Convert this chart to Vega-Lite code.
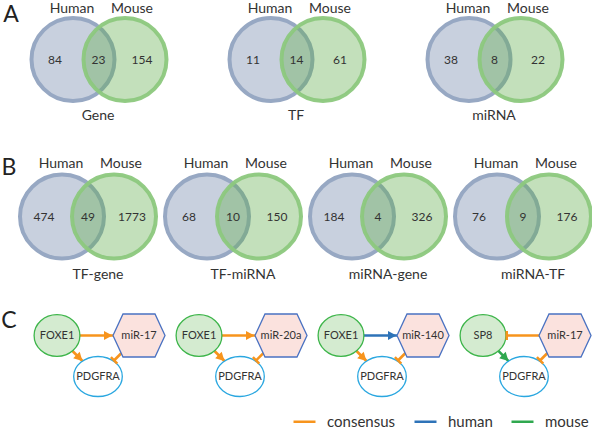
{
  "$schema": "https://vega.github.io/schema/vega-lite/v6.json",
  "padding": 0,
  "background": "white",
  "spacing": 0,
  "config": {
    "font": "Lato",
    "view": {"stroke": null},
    "axis": {"disable": true},
    "facet": {"spacing": 0},
    "concat": {"spacing": 0}
  },
  "vconcat": [
    {
      "data": {"values": [
        {"panel": "A", "venn": "Gene", "region": "Human", "count": 84},
        {"panel": "A", "venn": "Gene", "region": "Both", "count": 23},
        {"panel": "A", "venn": "Gene", "region": "Mouse", "count": 154},
        {"panel": "A", "venn": "TF", "region": "Human", "count": 11},
        {"panel": "A", "venn": "TF", "region": "Both", "count": 14},
        {"panel": "A", "venn": "TF", "region": "Mouse", "count": 61},
        {"panel": "A", "venn": "miRNA", "region": "Human", "count": 38},
        {"panel": "A", "venn": "miRNA", "region": "Both", "count": 8},
        {"panel": "A", "venn": "miRNA", "region": "Mouse", "count": 22}
      ]},
      "facet": {"column": {"field": "venn", "type": "nominal", "sort": ["Gene", "TF", "miRNA"], "header": null}},
      "spacing": {"column": 0, "row": 0},
      "bounds": "flush",
      "spec": {
        "width": 197.33,
        "height": 140,
        "resolve": {"scale": {"x": "independent", "y": "independent"}},
        "layer": [
          {
            "transform": [{"filter": "datum.region === 'Human'"}],
            "mark": {"type": "point", "shape": "circle", "size": 6889, "filled": true, "fill": "#c8d0de", "stroke": "#97a8c3", "strokeWidth": 4, "opacity": 1},
            "encoding": {
              "x": {"field": "region", "type": "nominal", "scale": {"type": "point", "domain": ["Human", "Mouse"], "range": [73, 125], "padding": 0}},
              "y": {"datum": "body", "type": "nominal", "scale": {"type": "point", "domain": ["body"], "range": [59.5, 59.5], "padding": 0}}
            }
          },
          {
            "transform": [{"filter": "datum.region === 'Mouse'"}],
            "mark": {"type": "point", "shape": "circle", "size": 6889, "filled": true, "fill": "#62ae4c", "fillOpacity": 0.38, "stroke": "#8cc87d", "strokeOpacity": 0.95, "strokeWidth": 4, "opacity": 1},
            "encoding": {
              "x": {"field": "region", "type": "nominal", "scale": {"type": "point", "domain": ["Human", "Mouse"], "range": [73, 125], "padding": 0}},
              "y": {"datum": "body", "type": "nominal", "scale": {"type": "point", "domain": ["body"], "range": [59.5, 59.5], "padding": 0}}
            }
          },
          {
            "transform": [{"filter": "datum.region !== 'Both'"}],
            "mark": {"type": "text", "font": "Lato", "fontSize": 14, "fill": "#333333"},
            "encoding": {
              "x": {"field": "region", "type": "nominal", "scale": {"type": "point", "domain": ["Human", "Mouse"], "range": [72, 132], "padding": 0}},
              "y": {"datum": "label", "type": "nominal", "scale": {"type": "point", "domain": ["label"], "range": [8.5, 8.5], "padding": 0}},
              "text": {"field": "region", "type": "nominal"}
            }
          },
          {
            "mark": {"type": "text", "font": "Lato", "fontSize": 12, "fill": "#333333"},
            "encoding": {
              "x": {"field": "region", "type": "nominal", "scale": {"type": "point", "domain": ["Human", "Both", "Mouse"], "range": [55, 142], "padding": 0}},
              "y": {"datum": "body", "type": "nominal", "scale": {"type": "point", "domain": ["body"], "range": [60, 60], "padding": 0}},
              "text": {"field": "count", "type": "nominal"}
            }
          },
          {
            "transform": [{"filter": "datum.region === 'Both'"}],
            "mark": {"type": "text", "font": "Lato", "fontSize": 14, "fill": "#333333"},
            "encoding": {
              "x": {"field": "region", "type": "nominal", "scale": {"type": "point", "domain": ["Human", "Both", "Mouse"], "range": [54, 142], "padding": 0}},
              "y": {"datum": "caption", "type": "nominal", "scale": {"type": "point", "domain": ["caption"], "range": [116, 116], "padding": 0}},
              "text": {"field": "venn", "type": "nominal"}
            }
          },
          {
            "transform": [{"filter": "datum.venn === 'Gene' && datum.region === 'Both'"}],
            "mark": {"type": "text", "font": "Lato", "fontSize": 23, "fill": "#222222"},
            "encoding": {
              "x": {"field": "panel", "type": "nominal", "scale": {"type": "point", "domain": ["A"], "range": [11, 11], "padding": 0}},
              "y": {"field": "panel", "type": "nominal", "scale": {"type": "point", "domain": ["A"], "range": [15, 15], "padding": 0}},
              "text": {"field": "panel", "type": "nominal"}
            }
          }
        ]
      }
    },
    {
      "data": {"values": [
        {"panel": "B", "venn": "TF-gene", "region": "Human", "count": 474},
        {"panel": "B", "venn": "TF-gene", "region": "Both", "count": 49},
        {"panel": "B", "venn": "TF-gene", "region": "Mouse", "count": 1773},
        {"panel": "B", "venn": "TF-miRNA", "region": "Human", "count": 68},
        {"panel": "B", "venn": "TF-miRNA", "region": "Both", "count": 10},
        {"panel": "B", "venn": "TF-miRNA", "region": "Mouse", "count": 150},
        {"panel": "B", "venn": "miRNA-gene", "region": "Human", "count": 184},
        {"panel": "B", "venn": "miRNA-gene", "region": "Both", "count": 4},
        {"panel": "B", "venn": "miRNA-gene", "region": "Mouse", "count": 326},
        {"panel": "B", "venn": "miRNA-TF", "region": "Human", "count": 76},
        {"panel": "B", "venn": "miRNA-TF", "region": "Both", "count": 9},
        {"panel": "B", "venn": "miRNA-TF", "region": "Mouse", "count": 176}
      ]},
      "facet": {"column": {"field": "venn", "type": "nominal", "sort": ["TF-gene", "TF-miRNA", "miRNA-gene", "miRNA-TF"], "header": null}},
      "spacing": {"column": 0, "row": 0},
      "bounds": "flush",
      "spec": {
        "width": 144.5,
        "height": 160,
        "resolve": {"scale": {"x": "independent", "y": "independent"}},
        "layer": [
          {
            "transform": [{"filter": "datum.region === 'Human'"}],
            "mark": {"type": "point", "shape": "circle", "size": 7056, "filled": true, "fill": "#c8d0de", "stroke": "#97a8c3", "strokeWidth": 4, "opacity": 1},
            "encoding": {
              "x": {"field": "region", "type": "nominal", "scale": {"type": "point", "domain": ["Human", "Mouse"], "range": [62, 114], "padding": 0}},
              "y": {"datum": "body", "type": "nominal", "scale": {"type": "point", "domain": ["body"], "range": [76.5, 76.5], "padding": 0}}
            }
          },
          {
            "transform": [{"filter": "datum.region === 'Mouse'"}],
            "mark": {"type": "point", "shape": "circle", "size": 7056, "filled": true, "fill": "#62ae4c", "fillOpacity": 0.38, "stroke": "#8cc87d", "strokeOpacity": 0.95, "strokeWidth": 4, "opacity": 1},
            "encoding": {
              "x": {"field": "region", "type": "nominal", "scale": {"type": "point", "domain": ["Human", "Mouse"], "range": [62, 114], "padding": 0}},
              "y": {"datum": "body", "type": "nominal", "scale": {"type": "point", "domain": ["body"], "range": [76.5, 76.5], "padding": 0}}
            }
          },
          {
            "transform": [{"filter": "datum.region !== 'Both'"}],
            "mark": {"type": "text", "font": "Lato", "fontSize": 14, "fill": "#333333"},
            "encoding": {
              "x": {"field": "region", "type": "nominal", "scale": {"type": "point", "domain": ["Human", "Mouse"], "range": [61, 121], "padding": 0}},
              "y": {"datum": "label", "type": "nominal", "scale": {"type": "point", "domain": ["label"], "range": [23.5, 23.5], "padding": 0}},
              "text": {"field": "region", "type": "nominal"}
            }
          },
          {
            "mark": {"type": "text", "font": "Lato", "fontSize": 12, "fill": "#333333"},
            "encoding": {
              "x": {"field": "region", "type": "nominal", "scale": {"type": "point", "domain": ["Human", "Both", "Mouse"], "range": [44, 132], "padding": 0}},
              "y": {"datum": "body", "type": "nominal", "scale": {"type": "point", "domain": ["body"], "range": [77, 77], "padding": 0}},
              "text": {"field": "count", "type": "nominal"}
            }
          },
          {
            "transform": [{"filter": "datum.region === 'Both'"}],
            "mark": {"type": "text", "font": "Lato", "fontSize": 14, "fill": "#333333"},
            "encoding": {
              "x": {"field": "region", "type": "nominal", "scale": {"type": "point", "domain": ["Human", "Both", "Mouse"], "range": [54, 142], "padding": 0}},
              "y": {"datum": "caption", "type": "nominal", "scale": {"type": "point", "domain": ["caption"], "range": [135, 135], "padding": 0}},
              "text": {"field": "venn", "type": "nominal"}
            }
          },
          {
            "transform": [{"filter": "datum.venn === 'TF-gene' && datum.region === 'Both'"}],
            "mark": {"type": "text", "font": "Lato", "fontSize": 23, "fill": "#222222"},
            "encoding": {
              "x": {"field": "panel", "type": "nominal", "scale": {"type": "point", "domain": ["B"], "range": [9, 9], "padding": 0}},
              "y": {"field": "panel", "type": "nominal", "scale": {"type": "point", "domain": ["B"], "range": [28, 28], "padding": 0}},
              "text": {"field": "panel", "type": "nominal"}
            }
          }
        ]
      }
    },
    {
      "data": {"values": [
        {"net": "n1", "kind": "node", "role": "TF", "level": "regulator", "name": "FOXE1", "panel": "C"},
        {"net": "n1", "kind": "node", "role": "miRNA", "level": "regulator", "name": "miR-17"},
        {"net": "n1", "kind": "node", "role": "target", "level": "target", "name": "PDGFRA"},
        {"net": "n1", "kind": "edge", "from": "TF", "to": "miRNA", "fromLevel": "regulator", "toLevel": "regulator", "type": "consensus"},
        {"net": "n1", "kind": "edge", "from": "TF", "to": "target", "fromLevel": "regulator", "toLevel": "target", "type": "consensus"},
        {"net": "n1", "kind": "edge", "from": "miRNA", "to": "target", "fromLevel": "regulator", "toLevel": "target", "type": "consensus"},
        {"net": "n2", "kind": "node", "role": "TF", "level": "regulator", "name": "FOXE1"},
        {"net": "n2", "kind": "node", "role": "miRNA", "level": "regulator", "name": "miR-20a"},
        {"net": "n2", "kind": "node", "role": "target", "level": "target", "name": "PDGFRA"},
        {"net": "n2", "kind": "edge", "from": "TF", "to": "miRNA", "fromLevel": "regulator", "toLevel": "regulator", "type": "consensus"},
        {"net": "n2", "kind": "edge", "from": "TF", "to": "target", "fromLevel": "regulator", "toLevel": "target", "type": "consensus"},
        {"net": "n2", "kind": "edge", "from": "miRNA", "to": "target", "fromLevel": "regulator", "toLevel": "target", "type": "consensus"},
        {"net": "n3", "kind": "node", "role": "TF", "level": "regulator", "name": "FOXE1"},
        {"net": "n3", "kind": "node", "role": "miRNA", "level": "regulator", "name": "miR-140"},
        {"net": "n3", "kind": "node", "role": "target", "level": "target", "name": "PDGFRA"},
        {"net": "n3", "kind": "edge", "from": "TF", "to": "miRNA", "fromLevel": "regulator", "toLevel": "regulator", "type": "human"},
        {"net": "n3", "kind": "edge", "from": "TF", "to": "target", "fromLevel": "regulator", "toLevel": "target", "type": "consensus"},
        {"net": "n3", "kind": "edge", "from": "miRNA", "to": "target", "fromLevel": "regulator", "toLevel": "target", "type": "consensus"},
        {"net": "n4", "kind": "node", "role": "TF", "level": "regulator", "name": "SP8"},
        {"net": "n4", "kind": "node", "role": "miRNA", "level": "regulator", "name": "miR-17"},
        {"net": "n4", "kind": "node", "role": "target", "level": "target", "name": "PDGFRA"},
        {"net": "n4", "kind": "edge", "from": "miRNA", "to": "TF", "fromLevel": "regulator", "toLevel": "regulator", "type": "consensus"},
        {"net": "n4", "kind": "edge", "from": "TF", "to": "target", "fromLevel": "regulator", "toLevel": "target", "type": "mouse"},
        {"net": "n4", "kind": "edge", "from": "miRNA", "to": "target", "fromLevel": "regulator", "toLevel": "target", "type": "consensus"}
      ]},
      "facet": {"column": {"field": "net", "type": "nominal", "sort": ["n1", "n2", "n3", "n4"], "header": null}},
      "spacing": {"column": 0, "row": 0},
      "bounds": "flush",
      "spec": {
        "width": 141.8,
        "height": 129,
        "resolve": {"scale": {"x": "independent", "y": "independent"}},
        "layer": [
          {
            "transform": [{"filter": "datum.kind === 'edge'"}],
            "mark": {"type": "rule", "strokeWidth": 2.6, "strokeCap": "butt"},
            "encoding": {
              "x": {"field": "from", "type": "nominal", "scale": {"type": "point", "domain": ["TF", "target", "miRNA"], "range": [57, 139], "padding": 0}},
              "x2": {"field": "to"},
              "y": {"field": "fromLevel", "type": "nominal", "scale": {"type": "point", "domain": ["regulator", "target"], "range": [35.5, 76.5], "padding": 0}},
              "y2": {"field": "toLevel"},
              "color": {"field": "type", "type": "nominal", "scale": {"domain": ["consensus", "human", "mouse"], "range": ["#f7941d", "#2e73b8", "#2fa84f"]},
                "legend": {"orient": "none", "legendX": 292, "legendY": 409, "direction": "horizontal", "title": null, "symbolType": "stroke", "symbolSize": 484, "symbolStrokeWidth": 2.5, "labelFont": "Lato", "labelFontSize": 15, "labelColor": "#333333", "labelOffset": 10, "columnPadding": 13, "padding": 0}}
            }
          },
          {
            "transform": [{"filter": "datum.kind === 'node' && datum.role === 'TF'"}],
            "mark": {"type": "point", "shape": "M -22.9 0 A 22.9 20.9 0 1 0 22.9 0 A 22.9 20.9 0 1 0 -22.9 0 Z", "size": 4, "filled": true, "fill": "#d4ebd0", "stroke": "#3db54a", "strokeWidth": 1.3, "opacity": 1},
            "encoding": {
              "x": {"field": "role", "type": "nominal", "scale": {"type": "point", "domain": ["TF", "target", "miRNA"], "range": [57, 139], "padding": 0}},
              "y": {"field": "level", "type": "nominal", "scale": {"type": "point", "domain": ["regulator", "target"], "range": [35.5, 76.5], "padding": 0}}
            }
          },
          {
            "transform": [{"filter": "datum.kind === 'node' && datum.role === 'miRNA'"}],
            "mark": {"type": "point", "shape": "M -26 0 L -16 -21.5 L 16 -21.5 L 26 0 L 16 21.5 L -16 21.5 Z", "size": 4, "filled": true, "fill": "#fbe2de", "stroke": "#4a72c2", "strokeWidth": 1.3, "opacity": 1},
            "encoding": {
              "x": {"field": "role", "type": "nominal", "scale": {"type": "point", "domain": ["TF", "target", "miRNA"], "range": [57, 139], "padding": 0}},
              "y": {"field": "level", "type": "nominal", "scale": {"type": "point", "domain": ["regulator", "target"], "range": [35.5, 76.5], "padding": 0}}
            }
          },
          {
            "transform": [{"filter": "datum.kind === 'node' && datum.role === 'target'"}],
            "mark": {"type": "point", "shape": "M -24.3 0 A 24.3 20 0 1 0 24.3 0 A 24.3 20 0 1 0 -24.3 0 Z", "size": 4, "filled": true, "fill": "#ffffff", "stroke": "#2aa7e0", "strokeWidth": 1.3, "opacity": 1},
            "encoding": {
              "x": {"field": "role", "type": "nominal", "scale": {"type": "point", "domain": ["TF", "target", "miRNA"], "range": [57, 139], "padding": 0}},
              "y": {"field": "level", "type": "nominal", "scale": {"type": "point", "domain": ["regulator", "target"], "range": [35.5, 76.5], "padding": 0}}
            }
          },
          {
            "transform": [{"filter": "datum.kind === 'edge' && datum.from === 'TF' && datum.to === 'miRNA'"}],
            "mark": {"type": "point", "shape": "M -26.5 0 L -35 -4.6 L -35 4.6 Z", "size": 4, "filled": true, "opacity": 1},
            "encoding": {
              "x": {"field": "to", "type": "nominal", "scale": {"type": "point", "domain": ["TF", "target", "miRNA"], "range": [57, 139], "padding": 0}},
              "y": {"field": "toLevel", "type": "nominal", "scale": {"type": "point", "domain": ["regulator", "target"], "range": [35.5, 76.5], "padding": 0}},
              "color": {"field": "type", "type": "nominal", "legend": null}
            }
          },
          {
            "transform": [{"filter": "datum.kind === 'edge' && datum.from === 'TF' && datum.to === 'target'"}],
            "mark": {"type": "point", "shape": "M -22 0 L -30.5 -4.6 L -30.5 4.6 Z", "size": 4, "angle": 45, "filled": true, "opacity": 1},
            "encoding": {
              "x": {"field": "to", "type": "nominal", "scale": {"type": "point", "domain": ["TF", "target", "miRNA"], "range": [57, 139], "padding": 0}},
              "y": {"field": "toLevel", "type": "nominal", "scale": {"type": "point", "domain": ["regulator", "target"], "range": [35.5, 76.5], "padding": 0}},
              "color": {"field": "type", "type": "nominal", "legend": null}
            }
          },
          {
            "transform": [{"filter": "datum.kind === 'edge' && datum.from === 'miRNA' && datum.to === 'target'"}],
            "mark": {"type": "point", "shape": "M -21.5 -4.5 L -24 -4.5 L -24 4.5 L -21.5 4.5 Z", "size": 4, "angle": 135, "filled": true, "opacity": 1},
            "encoding": {
              "x": {"field": "to", "type": "nominal", "scale": {"type": "point", "domain": ["TF", "target", "miRNA"], "range": [57, 139], "padding": 0}},
              "y": {"field": "toLevel", "type": "nominal", "scale": {"type": "point", "domain": ["regulator", "target"], "range": [35.5, 76.5], "padding": 0}},
              "color": {"field": "type", "type": "nominal", "legend": null}
            }
          },
          {
            "transform": [{"filter": "datum.kind === 'edge' && datum.from === 'miRNA' && datum.to === 'TF'"}],
            "mark": {"type": "point", "shape": "M 22.5 -4.5 L 25 -4.5 L 25 4.5 L 22.5 4.5 Z", "size": 4, "filled": true, "opacity": 1},
            "encoding": {
              "x": {"field": "to", "type": "nominal", "scale": {"type": "point", "domain": ["TF", "target", "miRNA"], "range": [57, 139], "padding": 0}},
              "y": {"field": "toLevel", "type": "nominal", "scale": {"type": "point", "domain": ["regulator", "target"], "range": [35.5, 76.5], "padding": 0}},
              "color": {"field": "type", "type": "nominal", "legend": null}
            }
          },
          {
            "transform": [{"filter": "datum.kind === 'node'"}],
            "mark": {"type": "text", "font": "Lato", "fontSize": 11, "fill": "#333333"},
            "encoding": {
              "x": {"field": "role", "type": "nominal", "scale": {"type": "point", "domain": ["TF", "target", "miRNA"], "range": [57, 139], "padding": 0}},
              "y": {"field": "level", "type": "nominal", "scale": {"type": "point", "domain": ["regulator", "target"], "range": [35.5, 76.5], "padding": 0}},
              "text": {"field": "name", "type": "nominal"}
            }
          },
          {
            "transform": [{"filter": "datum.panel === 'C'"}],
            "mark": {"type": "text", "font": "Lato", "fontSize": 23, "fill": "#222222"},
            "encoding": {
              "x": {"field": "panel", "type": "nominal", "scale": {"type": "point", "domain": ["C"], "range": [9, 9], "padding": 0}},
              "y": {"field": "panel", "type": "nominal", "scale": {"type": "point", "domain": ["C"], "range": [21, 21], "padding": 0}},
              "text": {"field": "panel", "type": "nominal"}
            }
          }
        ]
      }
    }
  ]
}
